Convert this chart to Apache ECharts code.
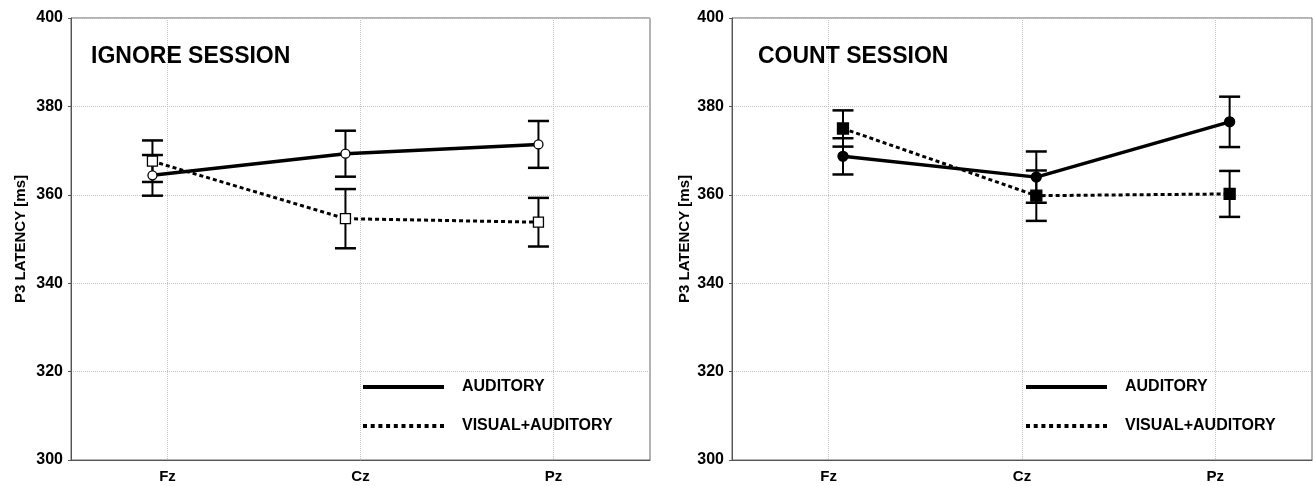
<!DOCTYPE html>
<html>
<head>
<meta charset="utf-8">
<script src="https://cdn.jsdelivr.net/npm/echarts@6/dist/echarts.min.js"></script>
<style>
html,body{margin:0;padding:0;background:#fff;}
#chart{width:1313px;height:486px;}
</style>
</head>
<body>
<div id="chart"></div>
<script>
// ---- data ----
const categories = ['Fz', 'Cz', 'Pz'];
const seriesNames = ['AUDITORY', 'VISUAL+AUDITORY'];
const panelTitles = ['IGNORE SESSION', 'COUNT SESSION'];
const yTicks = [300, 320, 340, 360, 380, 400];

const ignoreAuditory = [364.4, 369.3, 371.4];
const ignoreAuditoryErr = [4.6, 5.2, 5.3];
const ignoreVisual = [367.6, 354.6, 353.8];
const ignoreVisualErr = [4.7, 6.7, 5.5];

const countAuditory = [368.7, 364.0, 376.5];
const countAuditoryErr = [4.1, 5.8, 5.7];
const countVisual = [375.0, 359.8, 360.2];
const countVisualErr = [4.1, 5.7, 5.2];

// ---- styling / layout ----
const FONT = 'Liberation Sans, Arial, sans-serif';
const panels = [
  { left: 71, width: 579, offset: -0.078, filled: false, title: panelTitles[0], titleLeft: 91, legendLeft: 363,
    aud: ignoreAuditory, audErr: ignoreAuditoryErr, vis: ignoreVisual, visErr: ignoreVisualErr },
  { left: 732, width: 580, offset: 0.074, filled: true, title: panelTitles[1], titleLeft: 758, legendLeft: 1026,
    aud: countAuditory, audErr: countAuditoryErr, vis: countVisual, visErr: countVisualErr }
];

function dottedPath(n, period, dash, h) {
  let s = 'path://';
  for (let i = 0; i < n; i++) {
    const x = (i * period).toFixed(2);
    s += 'M' + x + ',0h' + dash + 'v' + h + 'h-' + dash + 'z';
  }
  return s;
}

function errorRender(params, api) {
  const x = api.value(0), lo = api.value(1), hi = api.value(2);
  const pHi = api.coord([x, hi]);
  const pLo = api.coord([x, lo]);
  const half = 10.5;
  const vs = { stroke: '#000', lineWidth: 2 };
  const cs = { stroke: '#000', lineWidth: 2.5 };
  return {
    type: 'group',
    children: [
      { type: 'line', shape: { x1: pHi[0], y1: pHi[1], x2: pLo[0], y2: pLo[1] }, style: vs },
      { type: 'line', shape: { x1: pHi[0] - half, y1: pHi[1], x2: pHi[0] + half, y2: pHi[1] }, style: cs },
      { type: 'line', shape: { x1: pLo[0] - half, y1: pLo[1], x2: pLo[0] + half, y2: pLo[1] }, style: cs }
    ]
  };
}

const grid = [], xAxis = [], yAxis = [], series = [], title = [], legend = [];

panels.forEach((p, gi) => {
  grid.push({ left: p.left, top: 18, width: p.width, height: 442, show: true,
    borderColor: '#666', borderWidth: 1, backgroundColor: '#fff' });

  xAxis.push({
    gridIndex: gi, type: 'category', data: categories, boundaryGap: true,
    axisLine: { onZero: false, lineStyle: { color: '#555', width: 1 } },
    axisTick: { show: false },
    axisLabel: { color: '#000', fontFamily: FONT, fontWeight: 'bold', fontSize: 15, margin: 9 },
    splitLine: { show: true, alignWithLabel: true, lineStyle: { color: '#c4c4c4', type: 'dotted', width: 1 } }
  });
  xAxis.push({ gridIndex: gi, type: 'value', min: -0.5, max: 2.5, show: false });

  yAxis.push({
    gridIndex: gi, type: 'value', min: yTicks[0], max: yTicks[yTicks.length - 1], interval: 20,
    name: 'P3 LATENCY [ms]', nameLocation: 'middle', nameGap: gi === 0 ? 43 : 40,
    nameTextStyle: { color: '#000', fontFamily: FONT, fontWeight: 'bold', fontSize: 15 },
    axisLine: { show: true, onZero: false, lineStyle: { color: '#555', width: 1 } },
    axisTick: { show: true, length: 3, lineStyle: { color: '#555' } },
    axisLabel: { color: '#000', fontFamily: FONT, fontWeight: 'bold', fontSize: 16, margin: 8 },
    splitLine: { show: true, lineStyle: { color: '#c4c4c4', type: 'dotted', width: 1 } }
  });

  title.push({ text: p.title, left: p.titleLeft, top: 45, padding: 0,
    textStyle: { color: '#000', fontFamily: FONT, fontWeight: 'bold', fontSize: 23 } });

  const xIdx = gi * 2 + 1;
  const mkErr = (vals, errs) => categories.map((c, i) => [i + p.offset, vals[i] - errs[i], vals[i] + errs[i]]);
  const mkPts = (vals) => categories.map((c, i) => [i + p.offset, vals[i]]);

  series.push({ type: 'custom', name: 'err-aud-' + gi, xAxisIndex: xIdx, yAxisIndex: gi, z: 1,
    renderItem: errorRender, encode: { x: 0, y: [1, 2] }, data: mkErr(p.aud, p.audErr), silent: true });
  series.push({ type: 'custom', name: 'err-vis-' + gi, xAxisIndex: xIdx, yAxisIndex: gi, z: 1,
    renderItem: errorRender, encode: { x: 0, y: [1, 2] }, data: mkErr(p.vis, p.visErr), silent: true });

  series.push({
    type: 'line', name: seriesNames[1], xAxisIndex: xIdx, yAxisIndex: gi, z: 3,
    data: mkPts(p.vis), symbol: 'rect', symbolSize: p.filled ? 11 : 10, showAllSymbol: true,
    color: '#000',
    lineStyle: { color: '#000', width: 3, type: [4, 3] },
    itemStyle: { color: p.filled ? '#000' : '#fff', borderColor: '#000', borderWidth: 1.3 },
    animation: false
  });
  series.push({
    type: 'line', name: seriesNames[0], xAxisIndex: xIdx, yAxisIndex: gi, z: 4,
    data: mkPts(p.aud), symbol: 'circle', symbolSize: p.filled ? 10 : 9, showAllSymbol: true,
    color: '#000',
    lineStyle: { color: '#000', width: 3.5 },
    itemStyle: { color: p.filled ? '#000' : '#fff', borderColor: '#000', borderWidth: 1.3 },
    animation: false
  });

  legend.push({
    orient: 'vertical', left: p.legendLeft, top: 378, padding: 0, itemWidth: 81, itemHeight: 4, itemGap: 21,
    selectedMode: false, symbolKeepAspect: false,
    textStyle: { color: '#000', fontFamily: FONT, fontWeight: 'bold', fontSize: 16, lineHeight: 18, padding: [0, 0, 0, 13] },
    data: [
      { name: seriesNames[0], icon: 'rect', itemStyle: { color: '#000', borderWidth: 0 } },
      { name: seriesNames[1], icon: dottedPath(11, 7.7, 4, 4), itemStyle: { color: '#000', borderWidth: 0 } }
    ]
  });
});

const chart = echarts.init(document.getElementById('chart'), null, { renderer: 'canvas' });
chart.setOption({
  animation: false,
  backgroundColor: '#fff',
  title, legend, grid, xAxis, yAxis, series
});
</script>
</body>
</html>
